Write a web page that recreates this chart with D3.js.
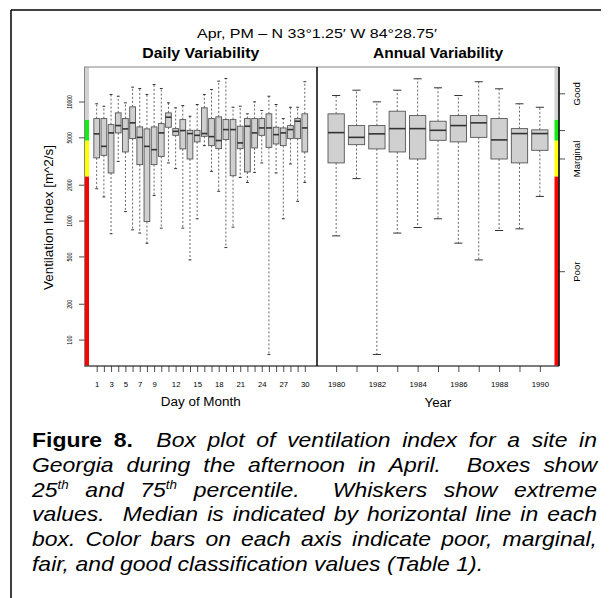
<!DOCTYPE html>
<html>
<head>
<meta charset="utf-8">
<script src="https://cdn.jsdelivr.net/npm/d3@7/dist/d3.min.js"></script>
<style>
body { margin: 0; background: #fff; }
text { font-family: 'Liberation Sans', Arial, sans-serif; fill: #000; }
</style>
</head>
<body>
<svg id="chart" width="614" height="598"></svg>
<script>
// ---- data ----
var days = [1,2,3,4,5,6,7,8,9,10,11,12,13,14,15,16,17,18,19,20,21,22,23,24,25,26,27,28,29,30];
var dayLabels = [1,3,5,7,9,12,15,18,21,24,27,30];
var dayMin = [1850,1580,775,3140,1190,836,785,645,1625,864,3050,2730,864,467,1035,4260,2590,1760,593,880,2305,2090,2540,3050,75,2510,1035,2990,1450,2090];
var dayQ1  = [3360,3530,2510,5450,3770,4880,2950,980,2950,3460,6080,5200,4000,3290,4580,5100,4260,4020,4790,2380,4020,2560,4075,5200,4120,4400,4260,4880,4880,3770];
var dayMed = [5350,4200,5450,6280,5890,6620,5000,4200,3940,5450,7380,5620,5700,5380,5200,5380,5070,4700,5810,5810,4490,6200,5450,6000,6000,5270,5450,5810,6830,6000];
var dayQ3  = [7190,7190,6400,8030,7190,9020,6120,5890,6120,6530,8030,5920,7050,5730,5730,8850,7190,7430,7050,7050,6200,7190,7190,7190,7880,6080,6000,6280,7190,7880];
var dayMax = [9570,9130,11460,11080,9750,13200,12870,11460,13910,12870,9750,8850,9250,7520,9440,11460,12620,14830,15620,8950,9130,7880,9940,8400,11080,9440,7190,8950,8950,14660];

var years = [1980,1981,1982,1983,1984,1985,1986,1987,1988,1989,1990];
var yearLabels = [1980,1982,1984,1986,1988,1990];
var yearMin = [744,2250,75,785,874,1035,646,467,825,852,1595];
var yearQ1  = [3050,4340,4000,3770,3290,4720,4580,5000,3290,3050,3890];
var yearMed = [5480,5000,5350,5920,5920,5730,6280,6620,4760,5380,5380];
var yearQ3  = [7880,6280,6280,8290,7620,6830,7620,7620,7190,5920,5780];
var yearMax = [11230,12450,9940,12450,15530,13040,11230,14660,12790,9570,8950];

var yTicks = [100, 200, 500, 1000, 2000, 5000, 10000];
var classBreaks = [2350, 4700, 7050];
var classNames = ['Poor', 'Marginal', 'Fair', 'Good'];
var classColors = ['#ff0000', '#ffff00', '#11ee11', '#d2d2d2'];

var titleText = 'Apr, PM \u2013 N 33\u00b01.25\u2032 W 84\u00b028.75\u2032';
var captionLines = [
	'**Figure 8.**  Box plot of ventilation index for a site in',
	'Georgia during the afternoon in April.  Boxes show',
	'25^th and 75^th percentile.  Whiskers show extreme',
	'values.  Median is indicated by horizontal line in each',
	'box. Color bars on each axis indicate poor, marginal,',
	'fair, and good classification values (Table 1).'
];

// ---- layout ----
var plot = { top: 67, bottom: 366, left: 84.5, mid: 317, right: 559 };

var svg = d3.select('#chart');

// page border of the figure
svg.append('line').attr('x1', 11).attr('x2', 601).attr('y1', 10).attr('y2', 10)
	.attr('stroke', '#000').attr('stroke-width', 1.5);
svg.append('line').attr('x1', 11).attr('x2', 11).attr('y1', 10).attr('y2', 598)
	.attr('stroke', '#000').attr('stroke-width', 1.5);

var y = d3.scaleLog().domain([60, 19500]).range([plot.bottom, plot.top]);
var xDay = d3.scaleLinear().domain([-0.7, 31.7]).range([plot.left, plot.mid]);
var xYear = d3.scaleLinear().domain([1979.06, 1990.94]).range([plot.mid, plot.right]);

function rows(cats, mins, q1s, meds, q3s, maxs) {
	return cats.map(function(c, i) {
		return { c: c, min: mins[i], q1: q1s[i], med: meds[i], q3: q3s[i], max: maxs[i] };
	});
}

function drawBoxes(cls, data, x, bw) {
	var g = svg.append('g').attr('class', cls);
	var b = g.selectAll('g.box').data(data).enter().append('g').attr('class', 'box');
	// whiskers
	b.append('line')
		.attr('x1', d => x(d.c)).attr('x2', d => x(d.c))
		.attr('y1', d => y(d.q3)).attr('y2', d => y(d.max))
		.attr('stroke', '#555').attr('stroke-width', 0.9).attr('stroke-dasharray', '2,2');
	b.append('line')
		.attr('x1', d => x(d.c)).attr('x2', d => x(d.c))
		.attr('y1', d => y(d.q1)).attr('y2', d => y(d.min))
		.attr('stroke', '#555').attr('stroke-width', 0.9).attr('stroke-dasharray', '2,2');
	// staples
	['min', 'max'].forEach(function(k) {
		b.append('line')
			.attr('x1', d => x(d.c) - bw / 4).attr('x2', d => x(d.c) + bw / 4)
			.attr('y1', d => y(d[k])).attr('y2', d => y(d[k]))
			.attr('stroke', '#333').attr('stroke-width', 1);
	});
	b.append('rect')
		.attr('x', d => x(d.c) - bw / 2)
		.attr('y', d => y(d.q3))
		.attr('width', bw)
		.attr('height', d => y(d.q1) - y(d.q3))
		.attr('fill', '#d0d0d0').attr('stroke', '#555').attr('stroke-width', 0.9);
	b.append('line')
		.attr('x1', d => x(d.c) - bw / 2).attr('x2', d => x(d.c) + bw / 2)
		.attr('y1', d => y(d.med)).attr('y2', d => y(d.med))
		.attr('stroke', '#333').attr('stroke-width', 1.6);
}

var dayBw = (xDay(1) - xDay(0)) * 0.8;
var yearBw = (xYear(1981) - xYear(1980)) * 0.8;
drawBoxes('daily', rows(days, dayMin, dayQ1, dayMed, dayQ3, dayMax), xDay, dayBw);
drawBoxes('annual', rows(years, yearMin, yearQ1, yearMed, yearQ3, yearMax), xYear, yearBw);

// colour bars for the classes, both sides
var bounds = [y.domain()[0]].concat(classBreaks, [y.domain()[1]]);
[[plot.left, plot.left + 4.5], [plot.right - 4.5, plot.right]].forEach(function(side) {
	classColors.forEach(function(col, i) {
		svg.append('rect')
			.attr('x', side[0]).attr('width', side[1] - side[0])
			.attr('y', y(bounds[i + 1])).attr('height', y(bounds[i]) - y(bounds[i + 1]))
			.attr('fill', col);
	});
});

// frame
svg.append('rect')
	.attr('x', plot.left).attr('y', plot.top)
	.attr('width', plot.right - plot.left).attr('height', plot.bottom - plot.top)
	.attr('fill', 'none').attr('stroke', '#888').attr('stroke-width', 1);
svg.append('line').attr('x1', plot.left).attr('x2', plot.right).attr('y1', plot.bottom).attr('y2', plot.bottom)
	.attr('stroke', '#333').attr('stroke-width', 1);
svg.append('line').attr('x1', plot.mid).attr('x2', plot.mid).attr('y1', plot.top).attr('y2', plot.bottom)
	.attr('stroke', '#111').attr('stroke-width', 1.6);
svg.append('line').attr('x1', plot.right).attr('x2', plot.right).attr('y1', plot.top).attr('y2', plot.bottom)
	.attr('stroke', '#111').attr('stroke-width', 1.6);

function cleanAxis(g) {
	g.select('.domain').remove();
	g.selectAll('.tick line').attr('stroke', '#222').attr('stroke-width', 0.8);
}

// left axis
var yAxisG = svg.append('g').attr('transform', 'translate(' + plot.left + ',0)')
	.call(d3.axisLeft(y).tickValues(yTicks).tickSize(5.5).tickFormat(d3.format('d')));
cleanAxis(yAxisG);
yAxisG.selectAll('.tick text')
	.attr('transform', 'rotate(-90)').attr('x', 0).attr('y', -12.5).attr('dy', 0)
	.attr('text-anchor', 'middle').attr('font-size', 7).attr('fill', '#000')
	.attr('textLength', d => 2.2 + String(d).length * 2.3).attr('lengthAdjust', 'spacingAndGlyphs');

// right axis with class names at the middle of each class band
var classMids = bounds.slice(0, -1).map((b, i) => Math.sqrt(b * bounds[i + 1]));
var rAxisG = svg.append('g').attr('transform', 'translate(' + plot.right + ',0)')
	.call(d3.axisRight(y).tickValues(classMids).tickSize(6)
		.tickFormat((d, i) => classNames[i] == 'Fair' ? '' : classNames[i]));
cleanAxis(rAxisG);
rAxisG.selectAll('.tick text')
	.attr('transform', 'rotate(-90)').attr('x', 0).attr('y', 21).attr('dy', 0)
	.attr('text-anchor', 'middle').attr('font-size', 9.5).attr('fill', '#000');

// bottom axes
var dayAxisG = svg.append('g').attr('transform', 'translate(0,' + plot.bottom + ')')
	.call(d3.axisBottom(xDay).tickValues(days).tickSize(6)
		.tickFormat(d => dayLabels.indexOf(d) >= 0 ? d : ''));
var yearAxisG = svg.append('g').attr('transform', 'translate(0,' + plot.bottom + ')')
	.call(d3.axisBottom(xYear).tickValues(years).tickSize(6)
		.tickFormat(d => yearLabels.indexOf(d) >= 0 ? d : ''));
[dayAxisG, yearAxisG].forEach(function(g) {
	cleanAxis(g);
	g.selectAll('.tick text')
		.attr('y', 21).attr('dy', 0).attr('font-size', 7.5).attr('fill', '#000')
		.filter(function() { return this.textContent.length > 0; })
		.attr('textLength', function() { return this.textContent.length * 4.3; })
		.attr('lengthAdjust', 'spacingAndGlyphs');
});

// titles
function label(x, yy, txt, size, len, bold, rot) {
	var t = svg.append('text')
		.attr('text-anchor', 'middle')
		.attr('font-size', size)
		.attr('font-weight', bold ? 'bold' : 'normal')
		.attr('textLength', len).attr('lengthAdjust', 'spacingAndGlyphs')
		.text(txt);
	if (rot) t.attr('transform', 'translate(' + x + ',' + yy + ') rotate(-90)');
	else t.attr('x', x).attr('y', yy);
	return t;
}
label(317, 37.5, titleText, 13.5, 240, false);
label((plot.left + plot.mid) / 2, 58, 'Daily Variability', 15, 117, true);
label((plot.mid + plot.right) / 2, 58, 'Annual Variability', 15, 130, true);
label((plot.left + plot.mid) / 2, 406, 'Day of Month', 12.5, 80, false);
label((plot.mid + plot.right) / 2, 406.5, 'Year', 12.5, 27, false);
label(53, 217.5, 'Ventilation Index [m^2/s]', 13, 145, false, true);

// ---- caption, justified word by word ----
var cap = { left: 32, right: 597, top: 447, step: 24.8, size: 20.5, sx: 1.12 };
var capG = svg.append('g');
var bold = false;
captionLines.forEach(function(line, li) {
	var tokens = line.split(' ');
	var words = tokens.map(function(tok) {
		var wb = bold;
		if (tok.indexOf('**') == 0) { tok = tok.slice(2); wb = true; bold = true; }
		if (tok.slice(-2) == '**') { tok = tok.slice(0, -2); bold = false; }
		var g = capG.append('g');
		var t = g.append('text').attr('font-size', cap.size)
			.attr('font-weight', wb ? 'bold' : 'normal')
			.attr('font-style', wb ? 'normal' : 'italic');
		var parts = tok.split('^');
		t.append('tspan').text(parts[0]);
		if (parts.length > 1) {
			t.append('tspan').attr('font-size', 12).attr('dy', -8).text(parts[1]);
		}
		var w = tok.length ? t.node().getComputedTextLength() * cap.sx : 0;
		return { g: g, w: w };
	});
	var total = d3.sum(words, d => d.w);
	var last = li == captionLines.length - 1;
	var gap = last ? 0.278 * cap.size * cap.sx : (cap.right - cap.left - total) / (words.length - 1);
	var x = cap.left;
	var yy = cap.top + li * cap.step;
	words.forEach(function(d) {
		d.g.attr('transform', 'translate(' + x + ',' + yy + ') scale(' + cap.sx + ',1)');
		x += d.w + gap;
	});
});
</script>
</body>
</html>
